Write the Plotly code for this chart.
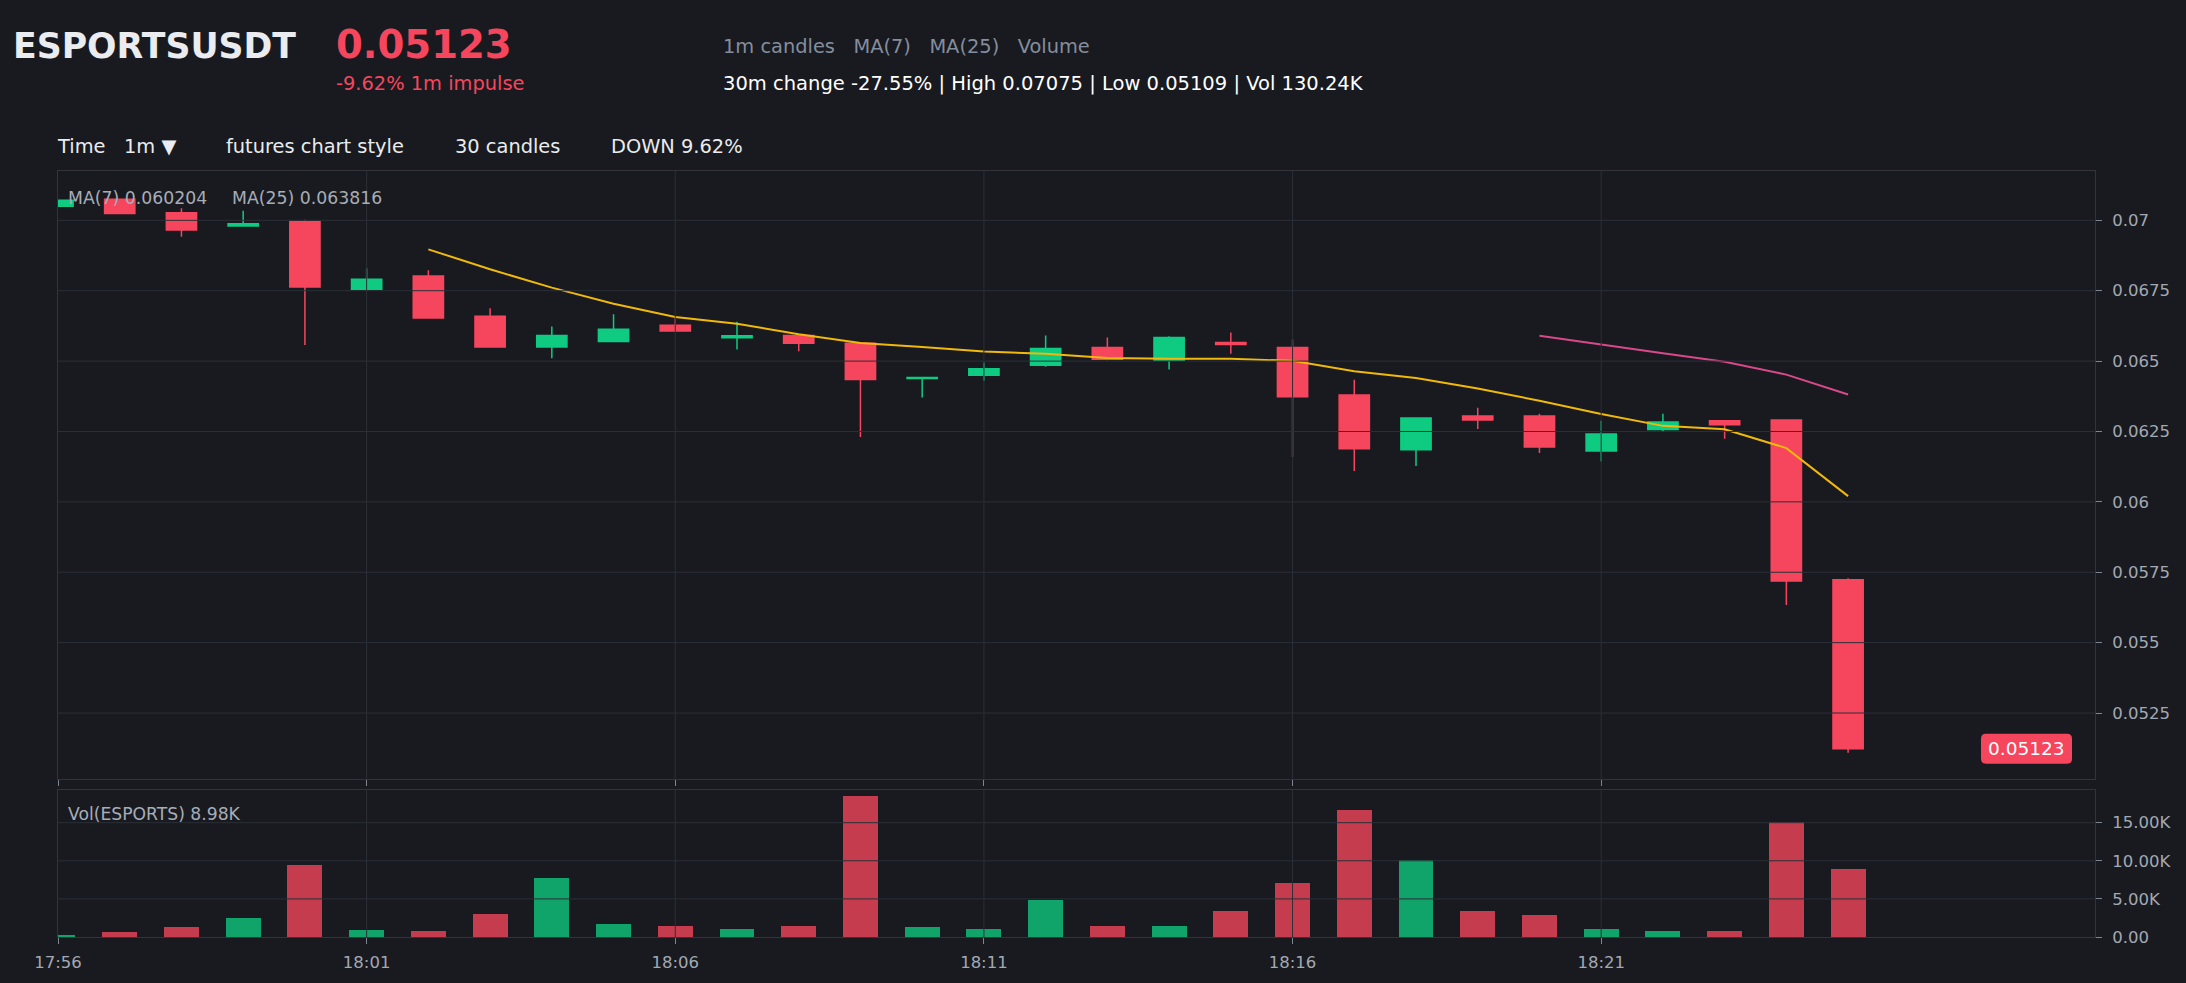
import plotly.graph_objects as go

# ---------------- data ----------------
DAY = "2024-05-20 "
times = ["17:56", "17:57", "17:58", "17:59", "18:00", "18:01", "18:02", "18:03", "18:04", "18:05",
         "18:06", "18:07", "18:08", "18:09", "18:10", "18:11", "18:12", "18:13", "18:14", "18:15",
         "18:16", "18:17", "18:18", "18:19", "18:20", "18:21", "18:22", "18:23", "18:24", "18:25"]
opens = [0.07050, 0.07075, 0.07027, 0.06980, 0.06996, 0.06755, 0.06802, 0.06659, 0.06550, 0.06570,
         0.06627, 0.06583, 0.06591, 0.06563, 0.06438, 0.06450, 0.06485, 0.06548, 0.06503, 0.06566,
         0.06548, 0.06380, 0.06185, 0.06305, 0.06305, 0.06181, 0.06257, 0.06288, 0.06291, 0.05723]
highs = [0.07071, 0.07075, 0.07043, 0.07034, 0.07002, 0.06830, 0.06823, 0.06688, 0.06623, 0.06666,
         0.06653, 0.06640, 0.06591, 0.06563, 0.06443, 0.06495, 0.06591, 0.06584, 0.06588, 0.06602,
         0.06577, 0.06434, 0.06298, 0.06334, 0.06313, 0.06288, 0.06313, 0.06288, 0.06291, 0.05729]
lows = [0.07048, 0.07024, 0.06942, 0.06980, 0.06557, 0.06749, 0.06653, 0.06550, 0.06510, 0.06570,
        0.06603, 0.06541, 0.06535, 0.06230, 0.06371, 0.06430, 0.06480, 0.06503, 0.06470, 0.06526,
        0.06159, 0.06110, 0.06127, 0.06259, 0.06174, 0.06143, 0.06249, 0.06224, 0.05634, 0.05109]
closes = [0.07071, 0.07024, 0.06966, 0.06988, 0.06763, 0.06791, 0.06653, 0.06550, 0.06591, 0.06613,
          0.06607, 0.06590, 0.06563, 0.06435, 0.06442, 0.06473, 0.06545, 0.06507, 0.06584, 0.06559,
          0.06373, 0.06189, 0.06298, 0.06291, 0.06195, 0.06241, 0.06284, 0.06274, 0.05719, 0.05123]
volumes = [220, 660, 1320, 2500, 9460, 880, 750, 2990, 7740, 1720,
           1410, 1010, 1400, 18470, 1280, 1010, 4880, 1400, 1400, 3400,
           7120, 16620, 10160, 3400, 2900, 1010, 750, 750, 15040, 8980]
ma7 = [None, None, None, None, None, None, 0.06897, 0.06826, 0.06761, 0.06704,
       0.06657, 0.06633, 0.06595, 0.06564, 0.06550, 0.06534, 0.06526, 0.06511, 0.06508, 0.06508,
       0.06501, 0.06464, 0.06440, 0.06403, 0.06359, 0.06312, 0.06270, 0.06258, 0.06191, 0.060204]
ma25 = [None] * 24 + [0.06590, 0.06558, 0.06528, 0.06498, 0.06452, 0.063816]

price_ticks = [0.0525, 0.055, 0.0575, 0.06, 0.0625, 0.065, 0.0675, 0.07]
price_tick_text = ["0.0525", "0.055", "0.0575", "0.06", "0.0625", "0.065", "0.0675", "0.07"]
vol_ticks = [0, 5000, 10000, 15000]
vol_tick_text = ["0.00", "5.00K", "10.00K", "15.00K"]
time_ticks = ["17:56", "18:01", "18:06", "18:11", "18:16", "18:21"]
last_price = 0.05123

# ---------------- styling ----------------
BG = "#181a20"
GREEN = "#0ecb81"
RED = "#f6465d"
YELLOW = "#f0b90b"
PINK = "#d9488b"
GRID = "#2b2f36"
FRAME = "#30343b"
TICK = "#7d8590"
LABEL = "#a3a9b2"
FONT = "DejaVu Sans"

L, R, T, B = 58, 91, 171, 46
FW, FH = 2186, 983
W, H = FW - L - R, FH - T - B
PRICE_RANGE = [0.050157, 0.071752]
VOL_RANGE = [0, 19290]
MAIN_DOM = [(FH - B - 779) / H, 1.0]
VOL_DOM = [0.0, (FH - B - 790) / H]

def fx(px):
    return (px - L) / W

def fy(py):
    return 1 - (py - T) / H

xs = [DAY + t for t in times]
tick_x = [DAY + t for t in time_ticks]
vol_colors = [GREEN if c >= o else RED for o, c in zip(opens, closes)]

fig = go.Figure()
fig.add_trace(go.Candlestick(
    x=xs, open=opens, high=highs, low=lows, close=closes,
    increasing=dict(line=dict(color=GREEN, width=1.5), fillcolor=GREEN),
    decreasing=dict(line=dict(color=RED, width=1.5), fillcolor=RED),
    whiskerwidth=0, showlegend=False, hoverinfo="skip", xaxis="x", yaxis="y"))
fig.add_trace(go.Scatter(x=xs, y=ma7, mode="lines", line=dict(color=YELLOW, width=2),
                         showlegend=False, hoverinfo="skip", xaxis="x", yaxis="y"))
fig.add_trace(go.Scatter(x=xs, y=ma25, mode="lines", line=dict(color=PINK, width=2),
                         showlegend=False, hoverinfo="skip", xaxis="x", yaxis="y"))
fig.add_trace(go.Bar(x=xs, y=volumes, marker=dict(color=vol_colors, line=dict(width=0)),
                     opacity=0.78, width=34000, showlegend=False, hoverinfo="skip",
                     xaxis="x2", yaxis="y2"))

axis_common = dict(showgrid=False, zeroline=False, showline=True, mirror=True,
                   linecolor=FRAME, linewidth=1, ticks="outside", ticklen=6,
                   tickcolor=TICK, tickwidth=1,
                   tickfont=dict(family=FONT, size=16.5, color=LABEL))
x_range = [DAY + "17:56:00", DAY + "18:29:00"]

fig.update_layout(
    width=FW, height=FH, paper_bgcolor=BG, plot_bgcolor=BG,
    margin=dict(l=L, r=R, t=T, b=B), showlegend=False, bargap=0,
    xaxis=dict(axis_common, domain=[0, 1], anchor="y", type="date", range=x_range,
               tickvals=tick_x, showticklabels=False, rangeslider=dict(visible=False)),
    yaxis=dict(axis_common, domain=MAIN_DOM, anchor="x", side="right", range=PRICE_RANGE,
               tickvals=price_ticks, ticktext=price_tick_text, ticklabelstandoff=7),
    xaxis2=dict(axis_common, domain=[0, 1], anchor="y2", type="date", range=x_range,
                tickvals=tick_x, ticktext=time_ticks, ticklabelstandoff=4),
    yaxis2=dict(axis_common, domain=VOL_DOM, anchor="x2", side="right", range=VOL_RANGE,
                tickvals=vol_ticks, ticktext=vol_tick_text, ticklabelstandoff=7),
)

# gridlines drawn above the marks (as in the reference)
shapes = []
for p in price_ticks:
    shapes.append(dict(type="line", xref="paper", yref="y", x0=0, x1=1, y0=p, y1=p,
                       line=dict(color=GRID, width=1), layer="above"))
for v in vol_ticks[1:]:
    shapes.append(dict(type="line", xref="paper", yref="y2", x0=0, x1=1, y0=v, y1=v,
                       line=dict(color=GRID, width=1), layer="above"))
for t in tick_x[1:]:
    for yr in ("y domain", "y2 domain"):
        shapes.append(dict(type="line", xref="x", yref=yr, x0=t, x1=t, y0=0, y1=1,
                           line=dict(color=GRID, width=1), layer="above"))

# rounded price tag for the last price
ppx = (PRICE_RANGE[1] - PRICE_RANGE[0]) / (779 - T)
x0, x1 = fx(1981), fx(2072)
y0, y1 = last_price - 15 * ppx, last_price + 15 * ppx
rx, ry = 5 / W, 5 * ppx
path = (f"M {x0+rx},{y1} L {x1-rx},{y1} Q {x1},{y1} {x1},{y1-ry} L {x1},{y0+ry} "
        f"Q {x1},{y0} {x1-rx},{y0} L {x0+rx},{y0} Q {x0},{y0} {x0},{y0+ry} "
        f"L {x0},{y1-ry} Q {x0},{y1} {x0+rx},{y1} Z")
shapes.append(dict(type="path", xref="paper", yref="y", path=path,
                   fillcolor=RED, line=dict(width=0), layer="above"))
fig.update_layout(shapes=shapes)

def note(text, px, py, size, color, bold=False, xanchor="left", yref="paper", y=None):
    return dict(text=f"<b>{text}</b>" if bold else text, x=fx(px), xref="paper",
                y=fy(py) if y is None else y, yref=yref, xanchor=xanchor, yanchor="middle",
                showarrow=False, font=dict(family=FONT, size=size, color=color))

annotations = [
    note("ESPORTSUSDT", 11, 46, 34.7, "#eaecef", bold=True),
    note("0.05123", 334, 45, 38.6, RED, bold=True),
    note("-9.62% 1m impulse", 334, 84, 19.4, RED),
    note("1m candles   MA(7)   MA(25)   Volume", 721, 46, 19.4, "#848e9c"),
    note("30m change -27.55% | High 0.07075 | Low 0.05109 | Vol 130.24K", 721, 84, 19.5, "#ffffff"),
    note("Time", 55, 146, 19.4, "#eaecef"),
    note("1m ▼", 122, 146, 19.4, "#eaecef"),
    note("futures chart style", 224, 146, 19.4, "#eaecef"),
    note("30 candles", 453, 146, 19.4, "#eaecef"),
    note("DOWN 9.62%", 609, 146, 19.4, "#eaecef"),
    note("MA(7) 0.060204", 66, 198, 17.3, "#a7adb7"),
    note("MA(25) 0.063816", 230, 198, 17.3, "#a7adb7"),
    note("Vol(ESPORTS) 8.98K", 66, 814, 17.2, "#a7adb7"),
    note("0.05123", (1981 + 2072) / 2, 0, 18.5, "#ffffff", xanchor="center",
         yref="y", y=last_price),
]
fig.update_layout(annotations=annotations)

fig.write_html("out.html", config={"displayModeBar": False})
